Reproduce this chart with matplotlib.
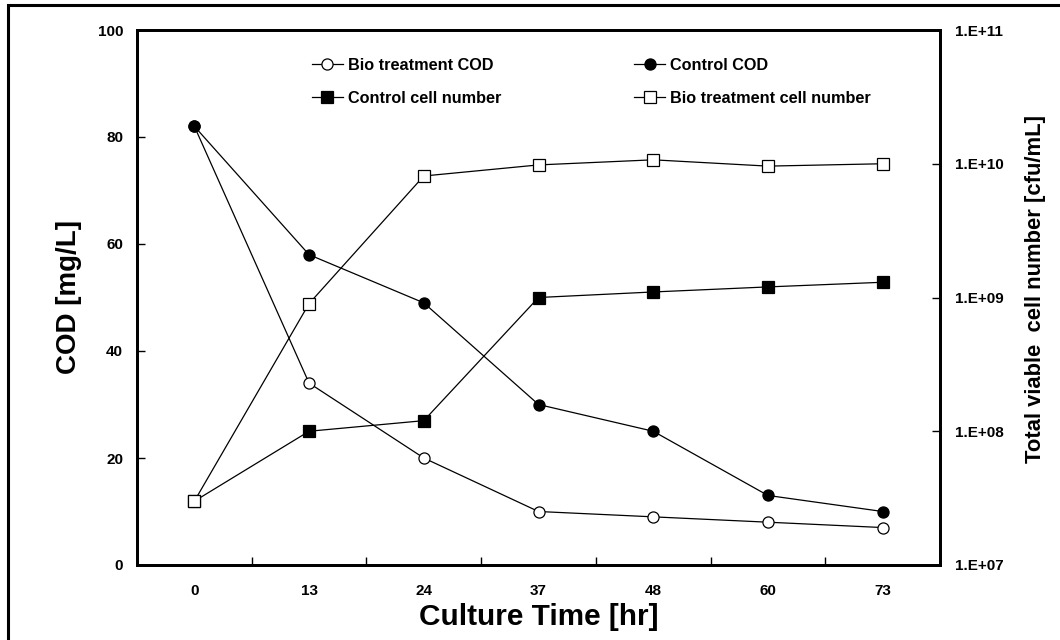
import math
import matplotlib.pyplot as plt
from matplotlib.patches import Rectangle
from matplotlib.ticker import FixedLocator, FuncFormatter, NullLocator

plt.rcParams['font.family'] = ['Liberation Sans', 'DejaVu Sans']
plt.rcParams['font.weight'] = 'bold'

# culture time points (hr) and measurements
times = ["0", "13", "24", "37", "48", "60", "73"]
bio_cod = [82, 34, 20, 10, 9, 8, 7]
control_cod = [82, 58, 49, 30, 25, 13, 10]
control_cells = [3.0e7, 1.0e8, 1.2e8, 1.0e9, 1.1e9, 1.2e9, 1.3e9]
bio_cells = [3.0e7, 9.0e8, 8.1e9, 9.8e9, 1.07e10, 9.6e9, 1.0e10]

fig = plt.figure(figsize=(10.6, 6.4), dpi=100)
ax = fig.add_axes([137 / 1060, 1 - 565 / 640, 803 / 1060, 535 / 640])
ax2 = ax.twinx()

line_kw = dict(color="black", lw=0.9, markersize=8, markeredgewidth=0.9)
h1, = ax.plot(times, bio_cod, marker="o", mfc="white", mec="black", **line_kw)
h2, = ax.plot(times, control_cod, marker="o", mfc="black", mec="black", **line_kw)
h3, = ax2.plot(times, control_cells, marker="s", mfc="black", mec="black", **line_kw)
h4, = ax2.plot(times, bio_cells, marker="s", mfc="white", mec="black", **line_kw)

ax.set_xlim(-0.5, len(times) - 0.5)
ax.set_ylim(0, 100)
ax.set_yticks(range(0, 101, 20))
ax2.set_yscale("log")
ax2.set_ylim(1e7, 1e11)
ax2.yaxis.set_major_locator(FixedLocator([1e7, 1e8, 1e9, 1e10, 1e11]))
ax2.yaxis.set_minor_locator(NullLocator())
ax2.yaxis.set_major_formatter(FuncFormatter(lambda v, p: "1.E+%02d" % round(math.log10(v))))

# tick marks sit between categories, labels sit on them
ax.xaxis.set_minor_locator(FixedLocator([i + 0.5 for i in range(len(times) - 1)]))
ax.tick_params(axis="x", which="major", length=0, pad=14, labelsize=11)
ax.tick_params(axis="x", which="minor", direction="in", length=6, width=1)
ax.tick_params(axis="y", direction="in", length=6, width=1, pad=10, labelsize=11)
ax2.tick_params(axis="y", direction="in", length=6, width=1, pad=11, labelsize=11)
for a in (ax, ax2):
    for s in a.spines.values():
        s.set_linewidth(2)
    for lab in a.get_xticklabels() + a.get_yticklabels():
        lab.set_fontweight("bold")

ax.set_xlabel("Culture Time [hr]", fontsize=21.4, fontweight="bold", labelpad=3)
ax.set_ylabel("COD [mg/L]", fontsize=20, fontweight="bold", labelpad=11)
ax2.set_ylabel("Total viable  cell number [cfu/mL]", fontsize=15.8, fontweight="bold")
ax2.yaxis.set_label_coords(1.106, 0.515)

fig.legend([h1, h3, h2, h4],
           ["Bio treatment COD", "Control cell number", "Control COD", "Bio treatment cell number"],
           ncol=2, frameon=False, loc="upper left", bbox_to_anchor=(312 / 1060, 1 - 58 / 640),
           prop={"weight": "bold", "size": 11.7}, handlelength=1.9, handletextpad=0.3,
           columnspacing=8.2, labelspacing=1.1, borderpad=0, borderaxespad=0)

# outer frame around the figure
fig.patches.append(Rectangle((8 / 1060, -0.2), 1.5, 1.2 - 5 / 640, transform=fig.transFigure,
                             fill=False, edgecolor="black", lw=2.2))

fig.savefig("out.png", dpi=100)
